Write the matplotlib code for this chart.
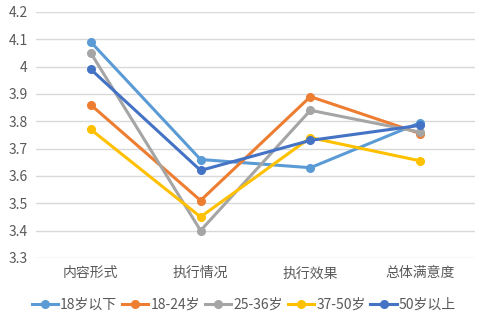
import matplotlib.pyplot as plt

plt.rcParams['font.family'] = ['Noto Sans CJK SC', 'DejaVu Sans']

categories = ['内容形式', '执行情况', '执行效果', '总体满意度']
series_names = ['18岁以下', '18-24岁', '25-36岁', '37-50岁', '50岁以上']
under18 = [4.09, 3.66, 3.63, 3.795]
age18_24 = [3.86, 3.51, 3.89, 3.755]
age25_36 = [4.05, 3.40, 3.84, 3.76]
age37_50 = [3.77, 3.45, 3.74, 3.655]
over50 = [3.99, 3.62, 3.73, 3.785]
yticks = [3.3, 3.4, 3.5, 3.6, 3.7, 3.8, 3.9, 4, 4.1, 4.2]

colors = ['#5B9BD5', '#ED7D31', '#A5A5A5', '#FFC000', '#4472C4']
all_series = [under18, age18_24, age25_36, age37_50, over50]

fig = plt.figure(figsize=(4.78, 3.13), dpi=100)
ax = fig.add_axes([0.075, 0.176, 0.919, 0.786])

x = list(range(len(categories)))
for name, vals, c in zip(series_names, all_series, colors):
    ax.plot(x, vals, color=c, lw=2.2, marker='o', ms=5.5, label=name)

ax.set_xlim(-0.5, 3.5)
ax.set_ylim(3.3, 4.2)
ax.set_yticks(yticks)
ax.set_yticklabels([str(v) for v in yticks])
ax.set_xticks(x)
ax.set_xticklabels(categories)
ax.tick_params(length=0, labelsize=10, colors='#595959', pad=6)
ax.grid(axis='y', color='#D9D9D9', lw=1)
ax.set_axisbelow(True)
for s in ax.spines.values():
    s.set_visible(False)

fig.legend(loc='lower center', bbox_to_anchor=(0.51, -0.035), ncol=5, frameon=False,
           fontsize=10, handlelength=1.9, handletextpad=0.15, columnspacing=0.35,
           labelcolor='#595959')

fig.savefig('out.png', dpi=100)
